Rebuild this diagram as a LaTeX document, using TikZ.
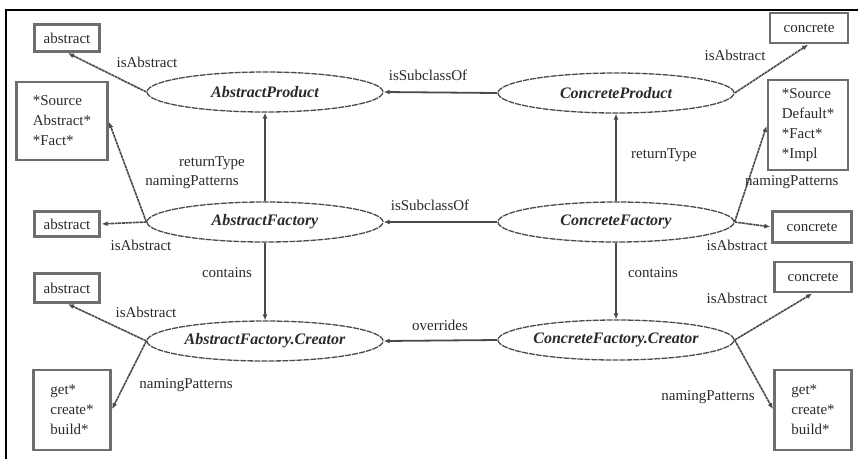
\documentclass[tikz,border=0pt]{standalone}
\usepackage{fontspec}
\setmainfont{Liberation Serif}
\usetikzlibrary{shapes.geometric,arrows.meta}
\definecolor{edgegray}{HTML}{4A4A4A}
\definecolor{boxgray}{HTML}{6E6E6E}
\definecolor{textgray}{HTML}{2A2A2A}
\tikzset{
  cls/.style={ellipse, draw=edgegray, line width=1.3pt, dashed, dash pattern=on 6pt off 1pt,
    minimum width=236pt, minimum height=40pt, inner sep=0pt,
    font=\fontsize{16}{18}\selectfont\bfseries\itshape, text=textgray},
  valbox/.style={rectangle, draw=boxgray, line width=2.2pt, inner sep=0pt,
    font=\fontsize{15}{20}\selectfont, text=textgray, align=left},
  lbl/.style={font=\fontsize{15}{17}\selectfont, text=textgray, inner sep=0pt},
  rel/.style={draw=edgegray, line width=1.8pt, -{Latex[length=6pt,width=5pt]}},
  prop/.style={draw=edgegray, line width=1.6pt, dash pattern=on 3pt off 0.6pt, -{Latex[length=6pt,width=5pt]}, shorten >=1pt},
}
\begin{document}
\begin{tikzpicture}[x=1pt,y=-1pt]
\useasboundingbox (0,0) rectangle (858,459);
% frame
\draw[line width=2.2pt] (5,10) -- (858,10);
\draw[line width=2.2pt] (6,9) -- (6,459);

% class ellipses
\node[cls] (ap)  at (265,92)  {AbstractProduct};
\node[cls] (cp)  at (616,93)  {ConcreteProduct};
\node[cls] (af)  at (265,222) {AbstractFactory};
\node[cls] (cf)  at (616,222) {ConcreteFactory};
\node[cls] (afc) at (265,341) {AbstractFactory.Creator};
\node[cls] (cfc) at (616,340) {ConcreteFactory.Creator};

% value boxes, left column
\node[valbox, minimum width=65pt, minimum height=27pt] (abs1) at (67,38) {abstract};
\node[valbox, minimum width=91pt, minimum height=78pt] (src1) at (62,121)
  {*Source\\Abstract*\\*Fact*};
\node[valbox, minimum width=65pt, minimum height=25pt] (abs2) at (67,224) {abstract};
\node[valbox, minimum width=65pt, minimum height=29pt] (abs3) at (67,288) {abstract};
\node[valbox, minimum width=77pt, minimum height=80pt] (get1) at (72,410)
  {get*\\create*\\build*};

% value boxes, right column
\node[valbox, minimum width=78pt, minimum height=30pt] (conc1) at (809,28) {concrete};
\node[valbox, minimum width=80pt, minimum height=90pt] (src2) at (808,125)
  {*Source\\Default*\\*Fact*\\*Impl};
\node[valbox, minimum width=79pt, minimum height=31pt] (conc2) at (812,227) {concrete};
\node[valbox, minimum width=77pt, minimum height=30pt] (conc3) at (813,277) {concrete};
\node[valbox, minimum width=77pt, minimum height=80pt] (get2) at (813,410)
  {get*\\create*\\build*};

% relations between classes
\draw[rel] (cp.west) -- (ap.east);
\draw[rel] (cf.west) -- (af.east);
\draw[rel] (cfc.west) -- (afc.east);
\draw[rel] (af.north) -- (ap.south);
\draw[rel] (cf.north) -- (cp.south);
\draw[rel] (af.south) -- (afc.north);
\draw[rel] (cf.south) -- (cfc.north);

% property arrows, left
\draw[prop] (ap.west) -- (abs1.south);
\draw[prop] (af.west) -- (src1.east);
\draw[prop] (af.west) -- (abs2.east);
\draw[prop] (afc.west) -- (abs3.south);
\draw[prop] (afc.west) -- (get1.east);

% property arrows, right
\draw[prop] (cp.east) -- (conc1.south);
\draw[prop] (cf.east) -- (src2.west);
\draw[prop] (cf.east) -- (conc2.west);
\draw[prop] (cfc.east) -- (conc3.south);
\draw[prop] (cfc.east) -- (get2.west);

% labels
\node[lbl] (l1)  at (428,75)  {isSubclassOf};
\node[lbl] (l2)  at (430,205) {isSubclassOf};
\node[lbl] (l3)  at (440,325) {overrides};
\node[lbl] (l4)  at (212,163) {returnType};
\node[lbl] (l5)  at (192,182) {namingPatterns};
\node[lbl] (l6)  at (147,62)  {isAbstract};
\node[lbl] (l7)  at (141,245) {isAbstract};
\node[lbl] (l8)  at (227,273) {contains};
\node[lbl] (l9)  at (146,312) {isAbstract};
\node[lbl] (l10) at (186,385) {namingPatterns};
\node[lbl] (l11) at (735,55)  {isAbstract};
\node[lbl] (l12) at (664,155) {returnType};
\node[lbl, anchor=west] (l13) at (745,182) {namingPatterns};
\node[lbl] (l14) at (737,245) {isAbstract};
\node[lbl] (l15) at (653,273) {contains};
\node[lbl] (l16) at (737,298) {isAbstract};
\node[lbl] (l17) at (708,397) {namingPatterns};
\end{tikzpicture}
\end{document}
